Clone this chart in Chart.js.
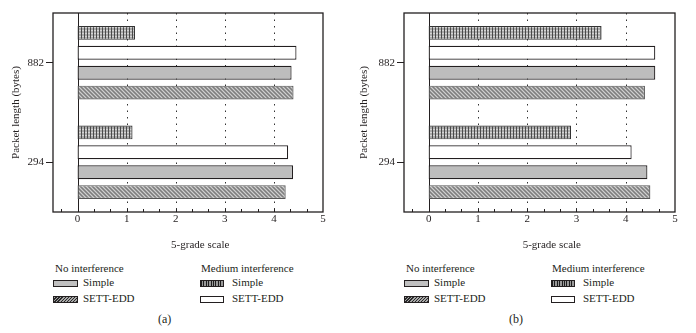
<!DOCTYPE html>
<html><head><meta charset="utf-8">
<script src="https://cdn.jsdelivr.net/npm/chart.js@4"></script>
<style>
body{margin:0;background:#fff;width:696px;height:333px;overflow:hidden;position:relative;font-family:"Liberation Serif",serif;color:#231f20}
.cv{position:absolute;top:0;width:348px;height:255px}
.lg{position:absolute;font-size:11px;line-height:13px;white-space:nowrap}
.cap{position:absolute;font-size:12px;line-height:14px;white-space:nowrap}
.sw{position:absolute;width:25px;height:7px;box-sizing:border-box;border:1px solid #231f20}
.gray{background:#c0c0c0}
.hatch{background:repeating-linear-gradient(-45deg,#2a2a2a 0 1px,#a8a8a8 1px 2.2px)}
.vstr{background:repeating-linear-gradient(90deg,#1e1e1e 0 1px,#9a9a9a 1px 2.4px)}
.white{background:#fff}
</style></head>
<body>
<div class="cv" style="left:0"><canvas id="ca"></canvas></div>
<div class="cv" style="left:348px"><canvas id="cb"></canvas></div>

<div id="legends"></div>

<script>
// ---- data ----
const categories = ['882', '294'];
const xTickValues = [0, 1, 2, 3, 4, 5];
const dottedGridValues = [1, 2, 3, 4];
const seriesNames = ['Medium interference Simple', 'Medium interference SETT-EDD', 'No interference Simple', 'No interference SETT-EDD'];

// panel (a)
const mediumSimpleA = [1.17, 1.12];
const mediumSettA   = [4.46, 4.29];
const noIntSimpleA  = [4.36, 4.39];
const noIntSettA    = [4.40, 4.24];
// panel (b)
const mediumSimpleB = [3.51, 2.89];
const mediumSettB   = [4.60, 4.12];
const noIntSimpleB  = [4.60, 4.44];
const noIntSettB    = [4.39, 4.50];

const ink = '#231f20';
const FONT = '"Liberation Serif", serif';

function makePattern(kind) {
  const c = document.createElement('canvas');
  const g = c.getContext('2d');
  if (kind === 'vstr') {
    c.width = 3; c.height = 3;
    g.fillStyle = '#ababab'; g.fillRect(0, 0, 3, 3);
    g.fillStyle = '#4a4a4a'; g.fillRect(0, 0, 1, 3);
    g.fillStyle = '#d4d4d4'; g.fillRect(1, 0, 2, 1);
  } else {
    c.width = 4; c.height = 4;
    g.fillStyle = '#9c9c9c'; g.fillRect(0, 0, 4, 4);
    g.fillStyle = '#cfcfcf';
    g.fillRect(0, 0, 1, 1); g.fillRect(1, 1, 1, 1); g.fillRect(2, 2, 1, 1); g.fillRect(3, 3, 1, 1);
    g.fillStyle = '#7e7e7e';
    g.fillRect(2, 0, 1, 1); g.fillRect(3, 1, 1, 1); g.fillRect(0, 2, 1, 1); g.fillRect(1, 3, 1, 1);
  }
  return g.createPattern(c, 'repeat');
}

const decor = {
  id: 'decor',
  beforeDatasetsDraw(chart) {
    const {ctx, chartArea: a, scales: {x}} = chart;
    ctx.save();
    ctx.strokeStyle = '#333';
    ctx.lineWidth = 1;
    ctx.setLineDash([1.5, 5]);
    dottedGridValues.forEach(v => {
      const px = Math.round(x.getPixelForValue(v)) + 0.5;
      ctx.beginPath(); ctx.moveTo(px, a.top); ctx.lineTo(px, a.bottom); ctx.stroke();
    });
    ctx.setLineDash([]);
    ctx.strokeStyle = ink;
    const z = Math.round(x.getPixelForValue(0)) + 0.5;
    ctx.beginPath(); ctx.moveTo(z, a.top); ctx.lineTo(z, a.bottom); ctx.stroke();
    ctx.restore();
  },
  afterDatasetsDraw(chart) {
    const {ctx, chartArea: a, scales: {x}} = chart;
    ctx.save();
    ctx.strokeStyle = ink;
    ctx.lineWidth = 1.3;
    ctx.strokeRect(a.left, a.top, a.right - a.left, a.bottom - a.top);
    ctx.lineWidth = 1;
    for (let k = -1; k < 15; k++) {
      const px = Math.round(x.getPixelForValue(k / 3)) + 0.5;
      ctx.beginPath(); ctx.moveTo(px, a.bottom); ctx.lineTo(px, a.bottom - 3); ctx.stroke();
    }
    ctx.fillStyle = ink;
    ctx.font = '11px ' + FONT;
    ctx.textAlign = 'center';
    ctx.textBaseline = 'middle';
    const cx = (x.getPixelForValue(0) + x.getPixelForValue(5)) / 2;
    ctx.fillText('5-grade scale', cx, a.bottom + 33);
    ctx.restore();
  }
};

function makeChart(id, vals, pad) {
  const pats = {vstr: makePattern('vstr'), hatch: makePattern('hatch')};
  const styles = [
    {bg: pats.vstr, bc: '#333'},
    {bg: '#ffffff', bc: ink},
    {bg: '#bdbdbd', bc: ink},
    {bg: pats.hatch, bc: '#555'}
  ];
  return new Chart(document.getElementById(id), {
    type: 'bar',
    data: {
      labels: categories,
      datasets: vals.map((d, i) => ({
        label: seriesNames[i],
        data: d,
        backgroundColor: styles[i].bg,
        borderColor: styles[i].bc,
        borderWidth: 1.2,
        borderSkipped: false,
        barPercentage: 0.7,
        categoryPercentage: 0.8
      }))
    },
    options: {
      indexAxis: 'y',
      responsive: true,
      maintainAspectRatio: false,
      animation: false,
      layout: {padding: {left: 0, top: pad.top, right: pad.right, bottom: 23}},
      plugins: {legend: {display: false}, tooltip: {enabled: false}},
      scales: {
        x: {
          type: 'linear', min: -0.5, max: 5,
          afterBuildTicks: s => { s.ticks = xTickValues.map(v => ({value: v})); },
          afterFit: s => { s.height = 20; },
          grid: {display: false, drawTicks: false},
          border: {display: false},
          ticks: {padding: 1, color: ink, font: {family: FONT, size: 11}}
        },
        y: {
          afterFit: s => { s.width = pad.left; },
          grid: {drawOnChartArea: false, offset: false, tickLength: 7, color: ink, tickWidth: 1},
          border: {display: false},
          ticks: {padding: 2, color: ink, font: {family: FONT, size: 11}},
          title: {display: true, text: 'Packet length (bytes)', color: ink, font: {family: FONT, size: 11}, padding: {top: 10, bottom: 0}}
        }
      }
    },
    plugins: [decor]
  });
}

makeChart('ca', [mediumSimpleA, mediumSettA, noIntSimpleA, noIntSettA], {left: 53, top: 13, right: 25});
makeChart('cb', [mediumSimpleB, mediumSettB, noIntSimpleB, noIntSettB], {left: 56, top: 13, right: 21});

// ---- legends (HTML) ----
const legendHeaders = ['No interference', 'Medium interference'];
const legendItems = [
  [{cls: 'gray', text: 'Simple'}, {cls: 'hatch', text: 'SETT-EDD'}],
  [{cls: 'vstr', text: 'Simple'}, {cls: 'white', text: 'SETT-EDD'}]
];
const panelCaptions = ['(a)', '(b)'];
const L = document.getElementById('legends');
[0, 351].forEach((off, p) => {
  const colX = [53, 200];
  const swW = [25, 24];
  const txtX = [83, 232];
  colX.forEach((cx, c) => {
    const h = document.createElement('div');
    h.className = 'lg'; h.textContent = legendHeaders[c];
    h.style.left = (cx + 2 - (c ? 1 : 0) + off) + 'px'; h.style.top = (269 - 7) + 'px';
    L.appendChild(h);
    legendItems[c].forEach((it, r) => {
      const cy = r ? 299 : 283;
      const s = document.createElement('div');
      s.className = 'sw ' + it.cls;
      s.style.left = (cx + off) + 'px'; s.style.top = (cy - 3.5) + 'px'; s.style.width = swW[c] + 'px';
      L.appendChild(s);
      const t = document.createElement('div');
      t.className = 'lg'; t.textContent = it.text;
      t.style.left = (txtX[c] + off) + 'px'; t.style.top = (cy - 7) + 'px';
      L.appendChild(t);
    });
  });
  const cap = document.createElement('div');
  cap.className = 'cap'; cap.textContent = panelCaptions[p];
  cap.style.left = (158 + off) + 'px'; cap.style.top = (319 - 7) + 'px';
  L.appendChild(cap);
});
</script>
</body></html>
